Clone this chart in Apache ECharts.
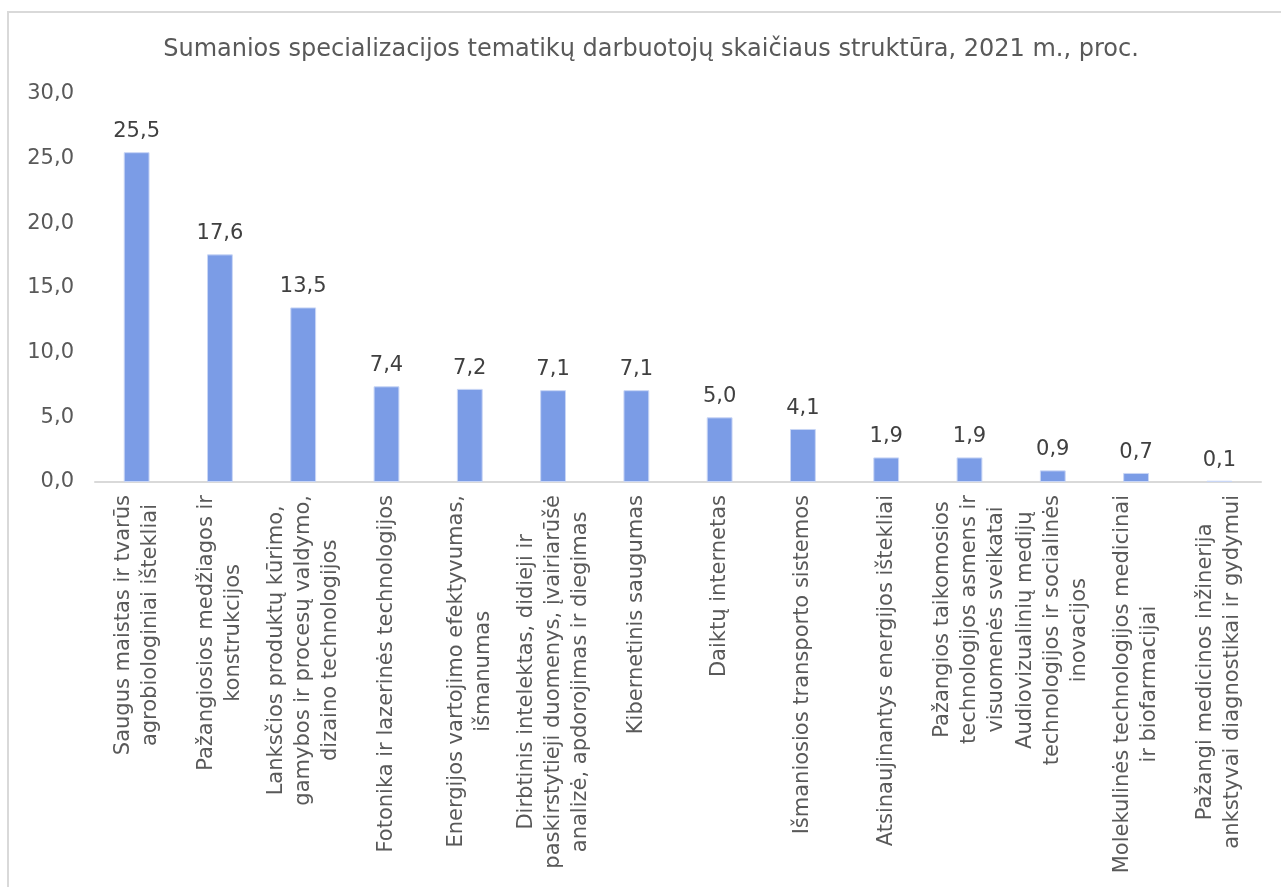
<!DOCTYPE html>
<html>
<head>
<meta charset="utf-8">
<script src="https://cdn.jsdelivr.net/npm/echarts@6/dist/echarts.min.js"></script>
<style>
  html, body { margin: 0; padding: 0; background: #fff; overflow: hidden; }
  #chart { position: absolute; left: 0; top: 0; width: 1281px; height: 887px; }
  #frame { position: absolute; left: 7px; top: 11px; width: 1290px; height: 900px;
           border: 2px solid #d9d9d9; box-sizing: border-box; pointer-events: none; }
</style>
</head>
<body>
<div id="chart"></div>
<div id="frame"></div>
<script>
// temos (kategorijos)
const categories = [
  "Saugus maistas ir tvarūs\nagrobiologiniai ištekliai",
  "Pažangiosios medžiagos ir\nkonstrukcijos",
  "Lanksčios produktų kūrimo,\ngamybos ir procesų valdymo,\ndizaino technologijos",
  "Fotonika ir lazerinės technologijos",
  "Energijos vartojimo efektyvumas,\nišmanumas",
  "Dirbtinis intelektas, didieji ir\npaskirstytieji duomenys, įvairiarūšė\nanalizė, apdorojimas ir diegimas",
  "Kibernetinis saugumas",
  "Daiktų internetas",
  "Išmaniosios transporto sistemos",
  "Atsinaujinantys energijos ištekliai",
  "Pažangios taikomosios\ntechnologijos asmens ir\nvisuomenės sveikatai",
  "Audiovizualinių medijų\ntechnologijos ir socialinės\ninovacijos",
  "Molekulinės technologijos medicinai\nir biofarmacijai",
  "Pažangi medicinos inžinerija\nankstyvai diagnostikai ir gydymui"
];
// darbuotojų dalis, proc.
const values = [25.5, 17.6, 13.5, 7.4, 7.2, 7.1, 7.1, 5.0, 4.1, 1.9, 1.9, 0.9, 0.7, 0.1];
const titleText = "Sumanios specializacijos tematikų darbuotojų skaičiaus struktūra, 2021 m., proc.";

const fmt = v => Number(v).toFixed(1).replace(".", ",");
const FONT = "DejaVu Sans";
const GRAY = "#595959";

const chart = echarts.init(document.getElementById("chart"));
chart.setOption({
  animation: false,
  title: {
    text: titleText,
    left: 646,
    top: 33,
    textAlign: "center",
    textStyle: { fontFamily: FONT, fontSize: 24, fontWeight: "normal", color: GRAY }
  },
  grid: { left: 95, right: 20, top: 94, bottom: 405, containLabel: false },
  xAxis: {
    type: "category",
    data: categories,
    axisLine: { lineStyle: { color: "#d9d9d9", width: 2 } },
    axisTick: { show: false },
    axisLabel: {
      interval: 0,
      rotate: 90,
      margin: 13,
      color: GRAY,
      fontFamily: FONT,
      fontSize: 21,
      formatter: v => v.split("\n").map(s => "{c|" + s + "}").join("\n"),
      rich: { c: { align: "center", fontFamily: FONT, fontSize: 21, color: GRAY, lineHeight: 27 } }
    }
  },
  yAxis: {
    type: "value",
    min: 0,
    max: 30,
    interval: 5,
    splitLine: { show: false },
    axisLine: { show: false },
    axisTick: { show: false },
    axisLabel: { margin: 21, color: GRAY, fontFamily: FONT, fontSize: 21, formatter: fmt }
  },
  series: [{
    type: "bar",
    data: values,
    barWidth: "31%",
    itemStyle: { color: "#7b9ce6", borderColor: "#c9d6f5", borderWidth: 1 },
    label: {
      show: true,
      position: "top",
      distance: 10,
      color: "#404040",
      fontFamily: FONT,
      fontSize: 21,
      formatter: p => fmt(p.value)
    }
  }]
});
</script>
</body>
</html>
